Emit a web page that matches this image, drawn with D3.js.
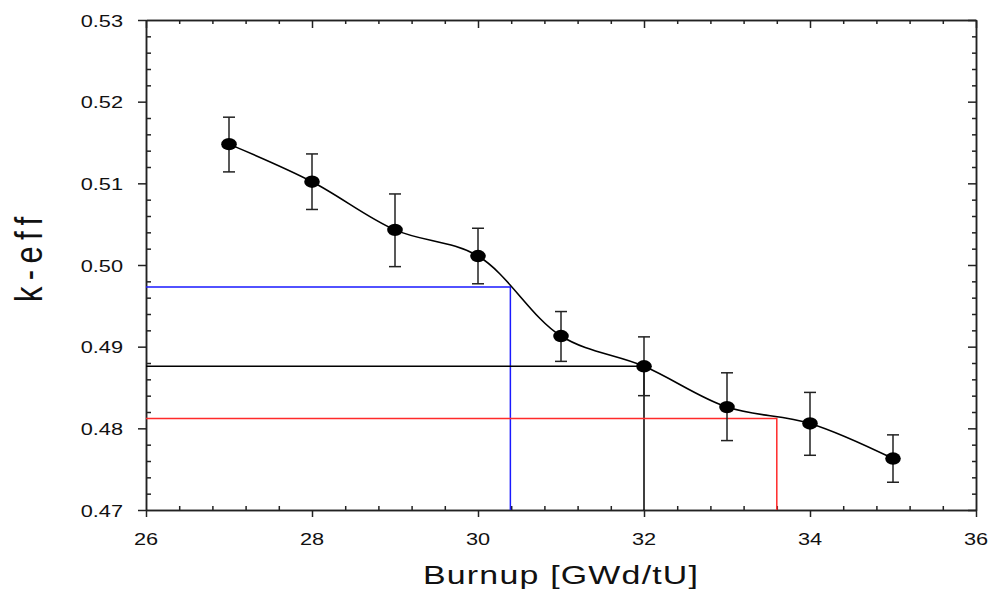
<!DOCTYPE html>
<html>
<head>
<meta charset="utf-8">
<script src="https://cdn.jsdelivr.net/npm/d3@7"></script>
<style>
  body { margin: 0; background: #fff; }
  svg text { font-family: "Liberation Sans", Arial, sans-serif; fill: #111; }
</style>
</head>
<body>
<div id="root"></div>
<script>
// data
var burnup = [27, 28, 29, 30, 31, 32, 33, 34, 35]
var keff   = [0.5148, 0.5102, 0.5043, 0.5011, 0.4913, 0.4876, 0.4826, 0.4806, 0.4763]
var errHi  = [0.5181, 0.5136, 0.5087, 0.5045, 0.4943, 0.4912, 0.4868, 0.4844, 0.4792]
var errLo  = [0.5114, 0.5068, 0.4998, 0.4977, 0.4882, 0.4840, 0.4785, 0.4767, 0.4734]

// guide lines (burnup found for a given k-eff)
var refX = [30.39, 32, 33.6]
var refY = [0.4973, 0.4876, 0.4812]
var refColor = ["#1a1aff", "#000000", "#ff2a2a"]

var xTicks = [26, 28, 30, 32, 34, 36]
var yTicks = [0.47, 0.48, 0.49, 0.50, 0.51, 0.52, 0.53]

var W = 989, H = 594
var stretch = 1.28   // the original text/markers look stretched sideways

var x = d3.scaleLinear().domain([26, 36]).range([146, 976])
var y = d3.scaleLinear().domain([0.47, 0.53]).range([510, 20])

var svg = d3.select("#root").append("svg")
  .attr("width", W).attr("height", H)

// minor ticks
var xMinor = d3.range(26, 36.001, 0.4).filter(function(v){ return Math.abs(v/2 - Math.round(v/2)) > 0.01 })
var yMinor = d3.range(0.47, 0.5301, 0.002).filter(function(v){ return Math.abs(v*100 - Math.round(v*100)) > 0.01 })

function drawAxis(axis, tr){
  var g = svg.append("g").attr("transform", tr).call(axis)
  g.selectAll("path, line").attr("stroke", "#222").attr("stroke-width", 1.5)
  g.selectAll("text").remove()
  return g
}

// bottom: major out, minor in
drawAxis(d3.axisBottom(x).tickValues(xTicks).tickSize(7).tickSizeOuter(0), "translate(0,510)")
drawAxis(d3.axisBottom(x).tickValues(xMinor).tickSize(-4).tickSizeOuter(0), "translate(0,510)")
// left: major out, minor in
drawAxis(d3.axisLeft(y).tickValues(yTicks).tickSize(8).tickSizeOuter(0), "translate(146,0)")
drawAxis(d3.axisLeft(y).tickValues(yMinor).tickSize(-5).tickSizeOuter(0), "translate(146,0)")
// top and right: all inward
drawAxis(d3.axisTop(x).tickValues(xTicks).tickSize(-8).tickSizeOuter(0), "translate(0,20)")
drawAxis(d3.axisTop(x).tickValues(xMinor).tickSize(-4).tickSizeOuter(0), "translate(0,20)")
drawAxis(d3.axisRight(y).tickValues(yTicks).tickSize(-8).tickSizeOuter(0), "translate(976,0)")
drawAxis(d3.axisRight(y).tickValues(yMinor).tickSize(-4).tickSizeOuter(0), "translate(976,0)")

// tick labels
svg.selectAll(".ylab").data(yTicks).enter().append("text")
  .attr("class", "ylab")
  .attr("transform", function(d){ return "translate(123," + (y(d) + 6.5) + ") scale(" + stretch + ",1)" })
  .attr("text-anchor", "end")
  .style("font-size", "17px")
  .text(d3.format(".2f"))

svg.selectAll(".xlab").data(xTicks).enter().append("text")
  .attr("class", "xlab")
  .attr("transform", function(d){ return "translate(" + x(d) + ",545) scale(" + stretch + ",1)" })
  .attr("text-anchor", "middle")
  .style("font-size", "17px")
  .text(function(d){ return d })

// axis titles
svg.append("text")
  .attr("transform", "translate(423,584) scale(" + stretch + ",1)")
  .attr("textLength", 275 / stretch)
  .attr("lengthAdjust", "spacing")
  .style("font-size", "26.5px")
  .text("Burnup [GWd/tU]")

svg.append("text")
  .attr("transform", "translate(42,259.5) rotate(-90) scale(1," + stretch + ")")
  .attr("text-anchor", "middle")
  .attr("textLength", 85)
  .attr("lengthAdjust", "spacing")
  .style("font-size", "31px")
  .text("k-eff")

// guide lines
var guides = svg.append("g")
refX.forEach(function(bx, i){
  guides.append("path")
    .attr("d", "M" + x(26) + "," + y(refY[i]) + "H" + x(bx) + "V" + y(0.47))
    .attr("fill", "none")
    .attr("stroke", refColor[i])
    .attr("stroke-width", 1.5)
})

// data
var pts = burnup.map(function(b, i){ return { b: b, k: keff[i], hi: errHi[i], lo: errLo[i] } })

var line = d3.line()
  .x(function(d){ return x(d.b) })
  .y(function(d){ return y(d.k) })
  .curve(d3.curveCatmullRom.alpha(0.5))

svg.append("path")
  .datum(pts)
  .attr("d", line)
  .attr("fill", "none")
  .attr("stroke", "#000")
  .attr("stroke-width", 1.6)

var bars = svg.selectAll(".err").data(pts).enter().append("g").attr("class", "err")
  .attr("stroke", "#222").attr("stroke-width", 1.5)
bars.append("line")
  .attr("x1", function(d){ return x(d.b) }).attr("x2", function(d){ return x(d.b) })
  .attr("y1", function(d){ return y(d.hi) }).attr("y2", function(d){ return y(d.lo) })
bars.append("line")
  .attr("x1", function(d){ return x(d.b) - 6 }).attr("x2", function(d){ return x(d.b) + 6 })
  .attr("y1", function(d){ return y(d.hi) }).attr("y2", function(d){ return y(d.hi) })
bars.append("line")
  .attr("x1", function(d){ return x(d.b) - 6 }).attr("x2", function(d){ return x(d.b) + 6 })
  .attr("y1", function(d){ return y(d.lo) }).attr("y2", function(d){ return y(d.lo) })

svg.selectAll(".dot").data(pts).enter().append("ellipse")
  .attr("class", "dot")
  .attr("cx", function(d){ return x(d.b) })
  .attr("cy", function(d){ return y(d.k) })
  .attr("rx", 7.8)
  .attr("ry", 6.2)
  .attr("fill", "#000")
</script>
</body>
</html>
